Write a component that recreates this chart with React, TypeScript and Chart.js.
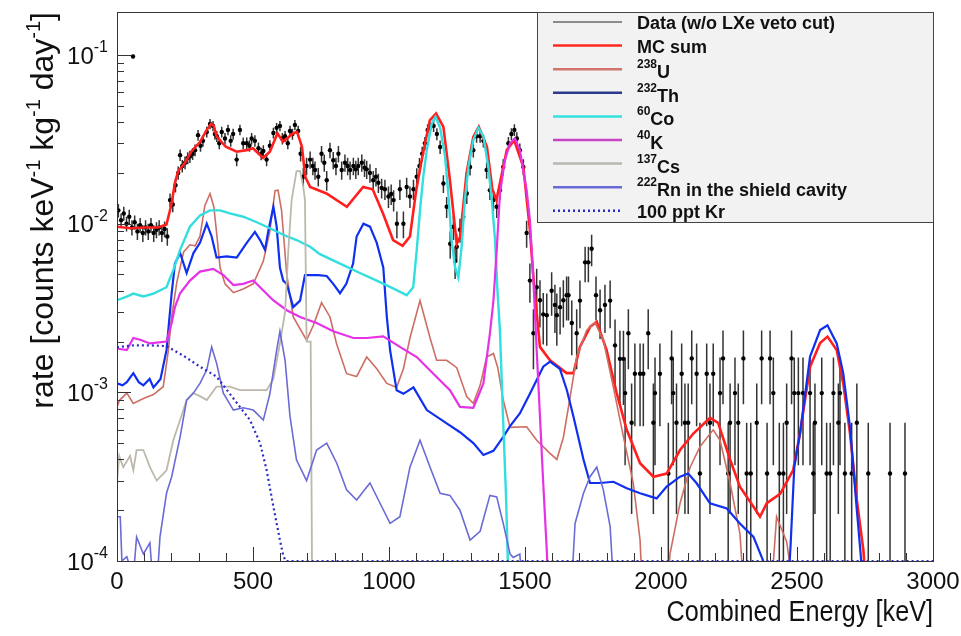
import { useEffect, useRef } from "react";
import { Chart, registerables } from "chart.js";
Chart.register(...registerables);

// ---------- axis ranges / ticks ----------
const X_MIN = 0;
const X_MAX = 3000;
const Y_MIN = 1e-4;
const Y_MAX = 0.18;
const xTickLabels = [0, 500, 1000, 1500, 2000, 2500, 3000];
const yTickValues = [1e-4, 1e-3, 1e-2, 1e-1];
const yTickExponents = ["-4", "-3", "-2", "-1"];

// ---------- series: [energy keV, rate] ----------
const mcSum = [
  [0, 9.6e-3], [50, 9.4e-3], [100, 9.5e-3], [150, 9.5e-3], [182, 9.9e-3], [200, 1.3e-2], [213, 1.75e-2],
  [225, 2.05e-2], [250, 2.3e-2], [275, 2.7e-2], [305, 3.05e-2], [330, 3.6e-2], [345, 3.9e-2], [356, 3.8e-2],
  [366, 3.3e-2], [400, 2.86e-2], [440, 2.67e-2], [477, 2.73e-2], [500, 2.8e-2], [537, 2.45e-2], [562, 2.67e-2],
  [590, 3.44e-2], [610, 3.06e-2], [648, 3.44e-2], [662, 3.5e-2], [680, 2.86e-2], [692, 1.9e-2], [710, 1.65e-2],
  [770, 1.51e-2], [845, 1.26e-2], [905, 1.65e-2], [940, 1.6e-2], [978, 1.15e-2], [1015, 8.0e-3], [1050, 7.4e-3],
  [1077, 8.4e-3], [1100, 1.58e-2], [1120, 2.38e-2], [1150, 4.1e-2], [1173, 4.5e-2], [1200, 3.75e-2], [1224, 1.81e-2],
  [1249, 7.6e-3], [1262, 8.4e-3], [1285, 1.99e-2], [1310, 3.27e-2], [1330, 3.75e-2], [1360, 2.86e-2], [1380, 1.6e-2],
  [1395, 1.38e-2], [1410, 1.81e-2], [1433, 2.73e-2], [1460, 3.13e-2], [1494, 2.17e-2], [1518, 9.2e-3], [1530, 5.0e-3],
  [1543, 2.95e-3], [1555, 1.86e-3], [1592, 1.55e-3], [1653, 1.3e-3], [1678, 1.3e-3], [1702, 1.86e-3], [1740, 2.45e-3],
  [1764, 2.62e-3], [1776, 2.3e-3], [1800, 1.78e-3], [1837, 9.9e-4], [1874, 6.0e-4], [1923, 3.8e-4], [1972, 3.16e-4],
  [2021, 3.3e-4], [2070, 4.55e-4], [2119, 5.7e-4], [2180, 7.05e-4], [2210, 6.6e-4], [2254, 4.0e-4], [2290, 2.76e-4],
  [2340, 2.1e-4], [2364, 1.83e-4], [2389, 2.2e-4], [2438, 2.5e-4], [2486, 3.46e-4], [2511, 5.7e-4], [2548, 1.42e-3],
  [2585, 1.96e-3], [2612, 2.14e-3], [2646, 1.78e-3], [2670, 1.13e-3], [2695, 5.7e-4], [2720, 2.3e-4], [2744, 1.16e-4],
  [2760, 5e-5],
];

const u238 = [
  [0, 8.2e-4], [10, 9.0e-4], [36, 9.9e-4], [60, 8.6e-4], [97, 9.2e-4], [134, 9.7e-4], [170, 1.08e-3], [189, 1.78e-3],
  [201, 2.8e-3], [220, 4.5e-3], [245, 6.8e-3], [268, 7.5e-3], [287, 7.4e-3], [305, 8.4e-3], [323, 1.28e-2],
  [342, 1.51e-2], [356, 1.26e-2], [366, 8.9e-3], [379, 5.5e-3], [397, 4.4e-3], [428, 3.9e-3], [464, 4.1e-3],
  [501, 4.4e-3], [538, 6.0e-3], [562, 9.0e-3], [581, 1.57e-2], [592, 1.58e-2], [605, 1.2e-2], [624, 5.0e-3],
  [648, 2.8e-3], [697, 2.04e-3], [722, 2.5e-3], [752, 3.4e-3], [783, 2.8e-3], [807, 1.95e-3], [844, 1.29e-3],
  [881, 1.24e-3], [918, 1.62e-3], [955, 1.38e-3], [992, 1.13e-3], [1028, 1.07e-3], [1053, 1.38e-3], [1077, 2.1e-3],
  [1114, 3.5e-3], [1151, 2.1e-3], [1175, 1.55e-3], [1212, 1.55e-3], [1249, 1.4e-3], [1286, 9.4e-4], [1310, 8.6e-4],
  [1335, 1.1e-3], [1359, 1.62e-3], [1384, 1.7e-3], [1400, 1.4e-3], [1420, 9.0e-4], [1445, 6.2e-4], [1506, 6.25e-4],
  [1543, 5.2e-4], [1592, 4.35e-4], [1617, 4.0e-4], [1641, 5.4e-4], [1666, 9.4e-4], [1690, 1.62e-3], [1727, 2.34e-3],
  [1757, 2.6e-3], [1788, 2.04e-3], [1825, 1.07e-3], [1862, 5.45e-4], [1898, 2.9e-4], [1923, 1.33e-4], [1935, 5e-5],
  [2020, 5e-5], [2033, 1.1e-4], [2070, 2.2e-4], [2107, 3.6e-4], [2143, 4.75e-4], [2192, 6.0e-4], [2217, 5.2e-4],
  [2254, 2.9e-4], [2290, 1.46e-4], [2310, 5e-5], [2400, 5e-5], [2425, 1.83e-4], [2462, 1.3e-4], [2498, 5e-5],
];

const th232 = [
  [0, 1.13e-3], [20, 1.1e-3], [36, 1.15e-3], [60, 1.3e-3], [80, 1.15e-3], [97, 1.1e-3], [120, 1.2e-3], [134, 1.07e-3],
  [160, 1.2e-3], [182, 1.78e-3], [201, 3.87e-3], [213, 5.8e-3], [232, 6.7e-3], [256, 5.1e-3], [281, 6.7e-3],
  [305, 7.7e-3], [330, 1.0e-2], [348, 8.4e-3], [366, 6.3e-3], [403, 6.4e-3], [440, 6.3e-3], [477, 7.7e-3],
  [507, 8.95e-3], [526, 8.0e-3], [544, 7.0e-3], [556, 9.0e-3], [575, 1.26e-2], [587, 9.6e-3], [599, 5.5e-3],
  [611, 4.6e-3], [624, 4.4e-3], [648, 3.2e-3], [673, 3.5e-3], [691, 4.96e-3], [740, 4.96e-3], [771, 4.9e-3],
  [795, 4.4e-3], [820, 3.87e-3], [843, 4.4e-3], [868, 5.8e-3], [881, 8.4e-3], [906, 1.0e-2], [930, 9.6e-3],
  [955, 7.7e-3], [979, 5.5e-3], [992, 2.8e-3], [1004, 1.78e-3], [1028, 1.03e-3], [1053, 9.8e-4], [1090, 1.07e-3],
  [1139, 7.85e-4], [1212, 6.55e-4], [1261, 5.8e-4], [1310, 5.0e-4], [1347, 4.25e-4], [1384, 4.5e-4], [1420, 5.45e-4],
  [1445, 6.3e-4], [1481, 7.5e-4], [1518, 9.8e-4], [1567, 1.42e-3], [1592, 1.52e-3], [1628, 1.38e-3], [1654, 1.03e-3],
  [1678, 7.2e-4], [1715, 4.0e-4], [1739, 2.9e-4], [1776, 2.9e-4], [1825, 2.95e-4], [1874, 2.7e-4], [1923, 2.52e-4],
  [1984, 2.35e-4], [2021, 2.76e-4], [2070, 3.16e-4], [2100, 3.3e-4], [2131, 2.89e-4], [2180, 2.2e-4], [2242, 2.05e-4],
  [2290, 1.67e-4], [2340, 1.39e-4], [2376, 1.0e-4], [2390, 5e-5], [2462, 5e-5], [2476, 1.2e-4], [2490, 3.6e-4],
  [2511, 5.7e-4], [2548, 1.63e-3], [2585, 2.34e-3], [2612, 2.5e-3], [2646, 1.95e-3], [2670, 1.3e-3], [2695, 6.2e-4],
  [2720, 2.0e-4], [2735, 1.05e-4], [2745, 5e-5],
];

const co60 = [
  [0, 3.52e-3], [36, 3.7e-3], [60, 3.85e-3], [97, 3.7e-3], [134, 3.85e-3], [182, 4.2e-3], [207, 5.3e-3],
  [232, 7.0e-3], [268, 9.6e-3], [305, 1.12e-2], [342, 1.2e-2], [379, 1.2e-2], [415, 1.15e-2], [464, 1.1e-2],
  [514, 1.02e-2], [562, 9.4e-3], [611, 8.6e-3], [660, 8.0e-3], [710, 7.3e-3], [746, 6.6e-3], [820, 5.8e-3],
  [893, 5.1e-3], [967, 4.5e-3], [1028, 4.04e-3], [1065, 3.77e-3], [1089, 4.2e-3], [1102, 7.0e-3], [1114, 1.2e-2],
  [1126, 1.9e-2], [1139, 2.73e-2], [1157, 3.9e-2], [1171, 4.3e-2], [1188, 3.7e-2], [1206, 2.5e-2], [1218, 1.51e-2],
  [1230, 8.0e-3], [1243, 5.5e-3], [1255, 4.8e-3], [1267, 7.3e-3], [1279, 1.38e-2], [1292, 2.17e-2], [1310, 3.13e-2],
  [1329, 3.7e-2], [1347, 3.3e-2], [1365, 2.17e-2], [1378, 1.38e-2], [1390, 8.0e-3], [1398, 4.2e-3], [1408, 2.3e-3],
  [1418, 8e-4], [1430, 2.5e-4], [1442, 5e-5],
];

const k40 = [
  [0, 1.82e-3], [36, 1.78e-3], [60, 2.1e-3], [85, 2.05e-3], [121, 1.95e-3], [182, 2.0e-3], [201, 2.58e-3],
  [213, 3.2e-3], [232, 3.87e-3], [268, 4.6e-3], [305, 5.2e-3], [354, 5.4e-3], [391, 4.96e-3], [428, 4.33e-3],
  [464, 4.4e-3], [501, 4.6e-3], [526, 4.2e-3], [574, 3.52e-3], [624, 3.07e-3], [673, 2.8e-3], [734, 2.58e-3],
  [795, 2.3e-3], [869, 2.1e-3], [918, 2.1e-3], [979, 2.15e-3], [1040, 1.86e-3], [1102, 1.62e-3], [1163, 1.29e-3],
  [1224, 1.03e-3], [1261, 8.2e-4], [1310, 8.1e-4], [1347, 1.13e-3], [1371, 2.24e-3], [1384, 3.5e-3], [1396, 7.0e-3],
  [1408, 1.51e-2], [1426, 2.38e-2], [1445, 3.0e-2], [1463, 3.2e-2], [1481, 2.73e-2], [1506, 1.58e-2], [1518, 1.05e-2],
  [1531, 4.6e-3], [1543, 1.78e-3], [1555, 7.2e-4], [1567, 2.9e-4], [1580, 1.16e-4], [1590, 5e-5],
];

const cs137 = [
  [0, 2.9e-4], [8, 4.2e-4], [23, 3.6e-4], [48, 4.2e-4], [60, 3.45e-4], [72, 4.55e-4], [97, 4.55e-4], [121, 3.6e-4],
  [146, 3.0e-4], [182, 3.45e-4], [207, 5.2e-4], [232, 6.85e-4], [256, 9.0e-4], [280, 9.9e-4], [305, 9.5e-4],
  [330, 9.0e-4], [366, 1.08e-3], [415, 1.08e-3], [452, 1.03e-3], [501, 1.03e-3], [550, 1.03e-3], [575, 1.2e-3],
  [599, 1.95e-3], [618, 3.0e-3], [630, 7.0e-3], [642, 1.38e-2], [660, 2.05e-2], [673, 2.05e-2], [685, 1.65e-2],
  [691, 1.38e-2], [697, 2.0e-3], [712, 2.0e-3], [718, 5e-5],
];

const rnShield = [
  [0, 1.83e-4], [12, 1.83e-4], [18, 1.0e-4], [36, 1.06e-4], [60, 8e-5], [72, 1.39e-4], [97, 1.1e-4], [121, 1.28e-4],
  [140, 5e-5], [158, 1.39e-4], [182, 2.52e-4], [201, 3.16e-4], [232, 5.45e-4], [256, 9.0e-4], [281, 9.9e-4],
  [305, 1.13e-3], [330, 1.36e-3], [348, 1.86e-3], [366, 1.49e-3], [391, 9.9e-4], [428, 7.85e-4], [464, 8.1e-4],
  [501, 7.85e-4], [538, 6.85e-4], [562, 9.8e-4], [587, 1.78e-3], [599, 2.3e-3], [618, 1.55e-3], [636, 7.2e-4],
  [660, 3.97e-4], [697, 3.0e-4], [734, 4.55e-4], [771, 5.0e-4], [808, 3.8e-4], [844, 2.64e-4], [881, 2.3e-4],
  [930, 2.9e-4], [967, 2.2e-4], [1004, 1.67e-4], [1040, 1.83e-4], [1077, 3.6e-4], [1114, 5.2e-4], [1151, 3.6e-4],
  [1188, 2.52e-4], [1224, 2.45e-4], [1261, 2.0e-4], [1298, 1.33e-4], [1335, 1.5e-4], [1371, 2.45e-4], [1396, 2.4e-4],
  [1420, 1.67e-4], [1445, 1.1e-4], [1457, 1.05e-4], [1481, 1.1e-4], [1495, 5e-5], [1666, 5e-5], [1684, 1.67e-4],
  [1715, 2.52e-4], [1739, 3.16e-4], [1764, 3.6e-4], [1788, 2.64e-4], [1813, 1.6e-4], [1831, 5e-5],
];

const kr100ppt = [
  [0, 1.85e-3], [60, 1.9e-3], [120, 1.9e-3], [182, 1.88e-3], [244, 1.65e-3], [305, 1.42e-3], [366, 1.24e-3],
  [428, 9.2e-4], [489, 6.85e-4], [526, 5.0e-4], [550, 3.46e-4], [575, 2.1e-4], [599, 1.33e-4], [611, 1.08e-4],
  [620, 1.0e-4], [3000, 1.0e-4],
];

// data: [energy keV, rate, error]
const measured = [
  [5, 1.2e-2, 1.1e-3], [15, 1.05e-2, 1.0e-3], [25, 1.15e-2, 1.1e-3], [35, 1.0e-2, 1.0e-3], [45, 1.1e-2, 1.1e-3],
  [55, 9.5e-3, 1.0e-3], [59, 9.8e-2, 1.0e-3], [65, 1.02e-2, 1.0e-3], [75, 9.0e-3, 1.0e-3], [85, 9.8e-3, 1.0e-3],
  [95, 8.8e-3, 1.0e-3], [105, 9.5e-3, 1.0e-3], [115, 9.0e-3, 1.0e-3], [125, 9.8e-3, 1.0e-3], [135, 8.8e-3, 1.0e-3],
  [145, 9.2e-3, 1.0e-3], [155, 9.5e-3, 1.0e-3], [165, 8.8e-3, 1.0e-3], [175, 9.3e-3, 1.0e-3], [185, 8.4e-3, 1.0e-3],
  [195, 1.38e-2, 1.3e-3], [205, 1.3e-2, 1.3e-3], [215, 1.69e-2, 1.6e-3], [225, 2.0e-2, 1.8e-3], [232, 2.55e-2, 2.0e-3],
  [240, 2.2e-2, 1.9e-3], [250, 2.3e-2, 2.0e-3], [260, 2.45e-2, 2.0e-3], [268, 2.5e-2, 2.1e-3], [278, 2.6e-2, 2.1e-3],
  [287, 2.73e-2, 2.2e-3], [298, 3.35e-2, 2.5e-3], [307, 2.9e-2, 2.3e-3], [316, 3.1e-2, 2.4e-3], [330, 3.5e-2, 2.6e-3],
  [342, 3.9e-2, 2.7e-3], [353, 3.8e-2, 2.7e-3], [360, 3.4e-2, 2.5e-3], [367, 3.3e-2, 2.5e-3], [376, 3.0e-2, 2.4e-3],
  [385, 3.5e-2, 2.6e-3], [397, 3.2e-2, 2.5e-3], [408, 3.6e-2, 2.6e-3], [418, 3.1e-2, 2.4e-3], [427, 3.4e-2, 2.5e-3],
  [440, 2.4e-2, 2.1e-3], [452, 3.6e-2, 2.6e-3], [464, 3.0e-2, 2.4e-3], [477, 3.0e-2, 2.4e-3], [487, 2.9e-2, 2.3e-3],
  [495, 3.2e-2, 2.5e-3], [507, 3.1e-2, 2.4e-3], [520, 2.8e-2, 2.3e-3], [530, 2.6e-2, 2.2e-3], [538, 2.7e-2, 2.2e-3],
  [550, 2.4e-2, 2.1e-3], [562, 2.9e-2, 2.3e-3], [575, 3.45e-2, 2.5e-3], [587, 3.7e-2, 2.6e-3], [599, 3.8e-2, 2.7e-3],
  [608, 3.2e-2, 2.5e-3], [618, 3.3e-2, 2.5e-3], [628, 3.0e-2, 2.4e-3], [636, 3.55e-2, 2.6e-3], [645, 3.4e-2, 2.5e-3],
  [654, 3.85e-2, 2.7e-3], [666, 3.55e-2, 2.6e-3], [675, 2.6e-2, 2.6e-3], [685, 1.9e-2, 2.4e-3], [697, 2.2e-2, 2.6e-3],
  [710, 2.4e-2, 2.8e-3], [720, 2.2e-2, 2.6e-3], [728, 2.08e-2, 2.6e-3], [740, 1.9e-2, 2.4e-3], [752, 2.6e-2, 2.9e-3],
  [762, 2.3e-2, 2.7e-3], [771, 1.81e-2, 2.4e-3], [783, 2.73e-2, 2.9e-3], [795, 2.38e-2, 2.8e-3], [805, 2.2e-2, 2.6e-3],
  [814, 2.6e-2, 2.9e-3], [826, 2.08e-2, 2.6e-3], [838, 2.3e-2, 2.7e-3], [848, 2.2e-2, 2.6e-3], [857, 2.08e-2, 2.6e-3],
  [869, 2.2e-2, 2.6e-3], [878, 2.1e-2, 2.6e-3], [887, 2.2e-2, 2.6e-3], [900, 2.3e-2, 2.7e-3], [910, 2.15e-2, 2.6e-3],
  [918, 2.1e-2, 2.6e-3], [930, 2.0e-2, 2.5e-3], [942, 1.81e-2, 2.4e-3], [952, 1.9e-2, 2.4e-3], [961, 1.75e-2, 2.3e-3],
  [973, 1.63e-2, 2.2e-3], [985, 1.6e-2, 2.2e-3], [998, 1.45e-2, 2.1e-3], [1008, 1.5e-2, 2.1e-3], [1017, 1.38e-2, 2.0e-3],
  [1029, 1.0e-2, 1.8e-3], [1040, 1.6e-2, 2.2e-3], [1053, 1.0e-2, 1.8e-3], [1065, 1.65e-2, 2.2e-3], [1077, 1.45e-2, 2.1e-3],
  [1090, 1.6e-2, 2.2e-3], [1102, 1.9e-2, 2.3e-3], [1112, 2.2e-2, 2.5e-3], [1122, 2.6e-2, 2.6e-3], [1132, 3.0e-2, 2.7e-3],
  [1142, 3.6e-2, 2.9e-3], [1151, 3.7e-2, 2.9e-3], [1164, 3.8e-2, 3.0e-3], [1176, 3.4e-2, 2.8e-3], [1188, 2.85e-2, 2.6e-3],
  [1200, 1.73e-2, 2.1e-3], [1212, 1.26e-2, 1.8e-3], [1225, 7.6e-3, 1.4e-3], [1237, 9.6e-3, 1.6e-3], [1243, 6.0e-3, 1.3e-3],
  [1249, 7.3e-3, 1.4e-3], [1261, 9.2e-3, 1.5e-3], [1273, 1.1e-2, 1.7e-3], [1286, 1.51e-2, 2.0e-3], [1298, 2.17e-2, 2.4e-3],
  [1310, 2.73e-2, 2.6e-3], [1322, 3.3e-2, 2.8e-3], [1335, 3.3e-2, 2.8e-3], [1347, 3.1e-2, 2.7e-3], [1359, 2.08e-2, 2.3e-3],
  [1371, 1.58e-2, 2.0e-3], [1384, 1.38e-2, 1.9e-3], [1396, 1.26e-2, 1.8e-3], [1408, 1.58e-2, 2.0e-3], [1420, 2.17e-2, 2.4e-3],
  [1439, 3.0e-2, 2.7e-3], [1450, 3.4e-2, 2.8e-3], [1461, 3.6e-2, 2.9e-3], [1470, 3.2e-2, 2.8e-3], [1481, 2.73e-2, 2.6e-3],
  [1494, 2.17e-2, 2.4e-3], [1506, 8.8e-3, 1.6e-3], [1518, 4.6e-3, 1.2e-3], [1531, 2.24e-3, 8.7e-4], [1543, 4.2e-3, 1.2e-3],
  [1555, 3.52e-3, 1.1e-3], [1567, 2.9e-3, 9.8e-4], [1580, 2.87e-3, 9.8e-4], [1598, 4.0e-3, 1.15e-3], [1610, 3.3e-3, 1.05e-3],
  [1617, 2.87e-3, 9.8e-4], [1629, 3.2e-3, 1.0e-3], [1641, 3.52e-3, 1.1e-3], [1653, 3.77e-3, 1.1e-3], [1660, 3.77e-3, 1.1e-3],
  [1672, 2.58e-3, 9.2e-4], [1690, 2.24e-3, 8.7e-4], [1702, 3.5e-3, 1.1e-3], [1721, 5.9e-3, 1.4e-3], [1733, 5.9e-3, 1.4e-3],
  [1745, 7.1e-3, 1.5e-3], [1761, 3.77e-3, 1.1e-3], [1776, 3.07e-3, 1.0e-3], [1794, 3.3e-3, 1.05e-3], [1813, 3.5e-3, 1.1e-3],
  [1831, 1.9e-3, 8.0e-4], [1849, 1.58e-3, 7.4e-4], [1862, 1.58e-3, 7.4e-4], [1868, 9.9e-4, 6.2e-4], [1880, 2.24e-3, 8.7e-4],
  [1892, 6.6e-4, 4.7e-4], [1904, 1.29e-3, 6.6e-4], [1923, 1.29e-3, 6.6e-4], [1935, 1.29e-3, 6.6e-4], [1953, 2.24e-3, 8.7e-4],
  [1972, 6.6e-4, 4.7e-4], [1978, 9.9e-4, 6.2e-4], [1996, 1.29e-3, 6.6e-4], [2027, 3.3e-4, 3.3e-4], [2039, 1.59e-3, 7.4e-4],
  [2045, 9.9e-4, 6.2e-4], [2057, 6.6e-4, 4.7e-4], [2076, 1.29e-3, 6.6e-4], [2088, 6.6e-4, 4.7e-4], [2100, 6.6e-4, 4.7e-4],
  [2113, 1.59e-3, 7.4e-4], [2131, 1.29e-3, 6.6e-4], [2143, 3.3e-4, 3.3e-4], [2168, 1.29e-3, 6.6e-4], [2180, 6.6e-4, 4.7e-4],
  [2192, 1.29e-3, 6.6e-4], [2217, 9.9e-4, 6.2e-4], [2228, 1.59e-3, 7.4e-4], [2247, 3.3e-4, 3.3e-4], [2254, 6.6e-4, 4.7e-4],
  [2272, 9.9e-4, 6.2e-4], [2284, 6.6e-4, 4.7e-4], [2303, 1.59e-3, 7.4e-4], [2315, 3.3e-4, 3.3e-4], [2330, 3.3e-4, 3.3e-4],
  [2352, 6.6e-4, 4.7e-4], [2370, 1.59e-3, 7.4e-4], [2390, 3.3e-4, 3.3e-4], [2401, 1.59e-3, 7.4e-4], [2413, 9.9e-4, 6.2e-4],
  [2435, 3.3e-4, 3.3e-4], [2450, 3.3e-4, 3.3e-4], [2462, 6.6e-4, 4.7e-4], [2480, 1.59e-3, 7.4e-4], [2490, 9.9e-4, 6.2e-4],
  [2505, 9.9e-4, 6.2e-4], [2522, 9.9e-4, 6.2e-4], [2548, 9.9e-4, 6.2e-4], [2560, 3.3e-4, 3.3e-4], [2566, 6.6e-4, 4.7e-4],
  [2591, 9.9e-4, 6.2e-4], [2609, 3.3e-4, 3.3e-4], [2622, 3.3e-4, 3.3e-4], [2634, 9.9e-4, 6.2e-4], [2652, 6.6e-4, 4.7e-4],
  [2658, 9.9e-4, 6.2e-4], [2676, 3.3e-4, 3.3e-4], [2701, 3.3e-4, 3.3e-4], [2720, 6.6e-4, 4.7e-4], [2762, 3.3e-4, 3.3e-4],
  [2842, 3.3e-4, 3.3e-4], [2897, 3.3e-4, 3.3e-4],
];

// ---------- legend ----------
const legendSups = ["", "", "238", "232", "60", "40", "137", "222", ""];
const legendNames = ["Data (w/o LXe veto cut)", "MC sum", "U", "Th", "Co", "K", "Cs", "Rn in the shield cavity", "100 ppt Kr"];
const legendColors = ["#8c8c8c", "#ff2a1f", "#cf756c", "#2b3a8c", "#34e0e0", "#c646c6", "#b9b6ae", "#6a6ad6", "#2a2ac0"];

const FONT = '"Liberation Sans", Arial, Helvetica, sans-serif';

const toXY = (arr: number[][]) => arr.map((p) => ({ x: p[0], y: p[1] }));

function histDataset(label: string, data: number[][], color: string, width: number, order: number, dash?: number[]) {
  return {
    type: "line" as const,
    label,
    data: toXY(data),
    borderColor: color,
    backgroundColor: color,
    borderWidth: width,
    borderDash: dash || [],
    pointRadius: 0,
    fill: false,
    tension: 0,
    order,
  };
}

const rootPlugin = {
  id: "rootLook",
  beforeDatasetsDraw(chart: any) {
    const ctx = chart.ctx;
    const xs = chart.scales.x;
    const ys = chart.scales.y;
    const a = chart.chartArea;
    ctx.save();
    ctx.beginPath();
    ctx.rect(a.left, a.top, a.right - a.left, a.bottom - a.top);
    ctx.clip();
    ctx.strokeStyle = "rgba(0,0,0,0.8)";
    ctx.lineWidth = 1.5;
    for (const p of measured) {
      const x = xs.getPixelForValue(p[0]);
      const hi = ys.getPixelForValue(p[1] + p[2]);
      const lo = p[1] - p[2] > 0 ? ys.getPixelForValue(p[1] - p[2]) : a.bottom;
      const yc = ys.getPixelForValue(p[1]);
      ctx.beginPath();
      ctx.moveTo(x, hi);
      ctx.lineTo(x, lo);
      ctx.moveTo(x - 1.5, yc);
      ctx.lineTo(x + 1.5, yc);
      ctx.stroke();
    }
    ctx.restore();
  },
  afterDraw(chart: any) {
    const ctx = chart.ctx;
    const xs = chart.scales.x;
    const ys = chart.scales.y;
    const a = chart.chartArea;
    ctx.save();

    // frame
    ctx.strokeStyle = "#333";
    ctx.lineWidth = 1;
    ctx.strokeRect(Math.round(a.left) + 0.5, Math.round(a.top) + 0.5, Math.round(a.right - a.left), Math.round(a.bottom - a.top));

    // x ticks (inside)
    ctx.beginPath();
    for (let v = X_MIN; v <= X_MAX; v += 100) {
      const x = Math.round(xs.getPixelForValue(v)) + 0.5;
      const len = v % 500 === 0 ? 14 : 8;
      ctx.moveTo(x, a.bottom);
      ctx.lineTo(x, a.bottom - len);
    }
    // y ticks (inside)
    for (let e = -4; e <= -1; e++) {
      for (let m = 1; m <= 9; m++) {
        const v = m * Math.pow(10, e);
        if (v < Y_MIN * 0.999 || v > Y_MAX) continue;
        const y = Math.round(ys.getPixelForValue(v)) + 0.5;
        const len = m === 1 ? 14 : 7;
        ctx.moveTo(a.left, y);
        ctx.lineTo(a.left + len, y);
      }
    }
    ctx.stroke();

    // x tick labels
    ctx.fillStyle = "#111";
    ctx.font = `24px ${FONT}`;
    ctx.textAlign = "center";
    ctx.textBaseline = "alphabetic";
    for (const v of xTickLabels) {
      ctx.fillText(String(v), xs.getPixelForValue(v), a.bottom + 28);
    }

    // y tick labels 10^n
    for (let i = 0; i < yTickValues.length; i++) {
      const y = ys.getPixelForValue(yTickValues[i]);
      ctx.font = `16px ${FONT}`;
      const sw = ctx.measureText(yTickExponents[i]).width;
      const xr = 108;
      ctx.textAlign = "left";
      ctx.fillText(yTickExponents[i], xr - sw, y - 3);
      ctx.font = `24px ${FONT}`;
      ctx.textAlign = "right";
      ctx.fillText("10", xr - sw, y + 8.5);
    }

    // x title (slightly condensed like the original)
    ctx.save();
    ctx.font = `29px ${FONT}`;
    ctx.textAlign = "right";
    ctx.translate(a.right, 621);
    ctx.scale(0.87, 1);
    ctx.fillText("Combined Energy [keV]", 0, 0);
    ctx.restore();

    // y title (rotated, with superscripts)
    const parts: [string, boolean][] = [
      ["rate [counts keV", false], ["-1", true], [" kg", false], ["-1", true], [" day", false], ["-1", true], ["]", false],
    ];
    const big = `32px ${FONT}`;
    const small = `20px ${FONT}`;
    let total = 0;
    for (const [t, s] of parts) {
      ctx.font = s ? small : big;
      total += ctx.measureText(t).width;
    }
    ctx.save();
    ctx.translate(53, a.top);
    ctx.rotate(-Math.PI / 2);
    ctx.textAlign = "left";
    let cx = -total;
    for (const [t, s] of parts) {
      ctx.font = s ? small : big;
      ctx.fillText(t, cx, s ? -13 : 0);
      cx += ctx.measureText(t).width;
    }
    ctx.restore();

    // legend box
    const lx = 537, ly = 12, lw = a.right - 537, lh = 210;
    ctx.fillStyle = "#f2f2f2";
    ctx.fillRect(lx, ly, lw, lh);
    ctx.strokeStyle = "#444";
    ctx.lineWidth = 1;
    ctx.strokeRect(lx + 0.5, ly + 0.5, lw, lh);
    for (let i = 0; i < legendNames.length; i++) {
      const ry = ly + 10 + i * 23.6;
      ctx.beginPath();
      ctx.strokeStyle = legendColors[i];
      ctx.lineWidth = i === 0 ? 2 : 2.5;
      ctx.setLineDash(i === legendNames.length - 1 ? [2, 3] : []);
      ctx.moveTo(553, ry);
      ctx.lineTo(622, ry);
      ctx.stroke();
      ctx.setLineDash([]);
      ctx.fillStyle = "#111";
      ctx.textAlign = "left";
      let tx = 637;
      if (legendSups[i]) {
        ctx.font = `bold 12px ${FONT}`;
        ctx.fillText(legendSups[i], tx, ry - 1);
        tx += ctx.measureText(legendSups[i]).width;
        ctx.font = `bold 18px ${FONT}`;
        ctx.fillText(legendNames[i], tx, ry + 9);
      } else {
        ctx.font = `bold 18px ${FONT}`;
        ctx.fillText(legendNames[i], tx, ry + 7);
      }
    }
    ctx.restore();
  },
};

export default function App() {
  const ref = useRef<HTMLCanvasElement>(null);
  useEffect(() => {
    if (!ref.current) return;
    const chart = new Chart(ref.current, {
      type: "line",
      data: {
        datasets: [
          histDataset("100 ppt Kr", kr100ppt, "#2a2ac8", 2.2, 1, [2, 3]),
          histDataset("222Rn in the shield cavity", rnShield, "#6b6bd6", 1.6, 2),
          histDataset("137Cs", cs137, "#bcb8ac", 1.8, 3),
          histDataset("40K", k40, "#e632e6", 2.2, 4),
          histDataset("60Co", co60, "#33dede", 2.4, 5),
          histDataset("232Th", th232, "#1030f0", 2.2, 6),
          histDataset("238U", u238, "#cd6e64", 1.6, 7),
          histDataset("MC sum", mcSum, "#ff1f1f", 2.6, 8),
          {
            type: "line" as const,
            label: "Data (w/o LXe veto cut)",
            data: toXY(measured),
            showLine: false,
            pointRadius: 2.2,
            pointBackgroundColor: "#000",
            pointBorderWidth: 0,
            borderColor: "#000",
            order: 9,
          },
        ],
      },
      options: {
        animation: false,
        responsive: false,
        devicePixelRatio: 1,
        layout: { padding: { left: 117, right: 28, top: 12, bottom: 75 } },
        scales: {
          x: { type: "linear", min: X_MIN, max: X_MAX, display: false, bounds: "data" },
          y: { type: "logarithmic", min: Y_MIN, max: Y_MAX, display: false, bounds: "data" },
        },
        plugins: { legend: { display: false }, tooltip: { enabled: false } },
        events: [],
      },
      plugins: [rootPlugin],
    } as any);
    return () => chart.destroy();
  }, []);
  return (
    <div style={{ position: "fixed", left: 0, top: 0, width: 961, height: 636, background: "#fff" }}>
      <canvas ref={ref} width={961} height={636} style={{ width: 961, height: 636, display: "block" }} />
    </div>
  );
}
